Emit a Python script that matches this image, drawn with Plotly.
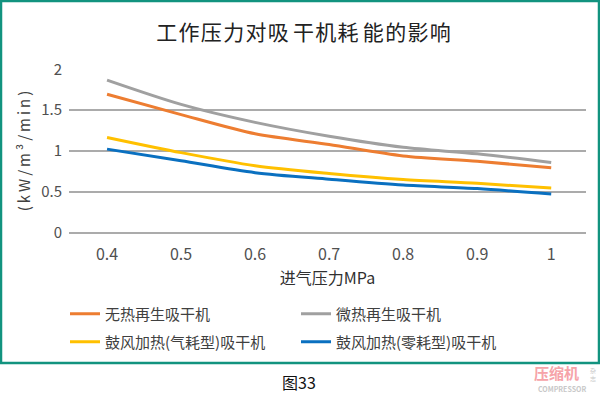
import plotly.graph_objects as go

# ---- data ----
pressure = [0.4, 0.5, 0.6, 0.7, 0.8, 0.9, 1.0]
x_tick_labels = ["0.4", "0.5", "0.6", "0.7", "0.8", "0.9", "1"]
y_ticks = [0, 0.5, 1, 1.5, 2]
y_tick_labels = ["0", "0.5", "1", "1.5", "2"]
series_names = ["无热再生吸干机", "微热再生吸干机", "鼓风加热(气耗型)吸干机", "鼓风加热(零耗型)吸干机"]
heatless = [1.695, 1.445, 1.21, 1.08, 0.94, 0.875, 0.795]
micro_heat = [1.867, 1.57, 1.35, 1.18, 1.045, 0.965, 0.86]
blower_air = [1.166, 0.98, 0.82, 0.725, 0.65, 0.605, 0.546]
blower_zero = [1.023, 0.88, 0.735, 0.655, 0.583, 0.54, 0.473]

colors = ["#ED7D31", "#A0A0A0", "#FFC000", "#0A70C0"]
FONT = "Noto Sans CJK SC"

W, H = 600, 395
L, R, T, B = 69, 586, 69, 233  # plot area in px


def px(xp):
    return (xp - L) / (R - L)


def py(yp):
    return (B - yp) / (B - T)


HAIR = "\u200a"
THIN = "\u2009"
title_text = HAIR.join("工作压力对吸") + THIN + HAIR.join("干机耗") + THIN + HAIR.join("能的影响")
ytitle_text = THIN.join(["(", "k", "W", "/", "m", "³", "/", "m", "i", "n", ")"])

fig = go.Figure()
data = [heatless, micro_heat, blower_air, blower_zero]
legends = ["legend", "legend", "legend2", "legend2"]
for name, vals, c, lg in zip(series_names, data, colors, legends):
    fig.add_trace(go.Scatter(
        x=pressure, y=vals, name=name, mode="lines",
        line=dict(color=c, width=3, shape="spline", smoothing=0.8),
        legend=lg,
    ))

legend_common = dict(
    orientation="h", xanchor="left", yanchor="middle",
    entrywidth=186, entrywidthmode="pixels",
    font=dict(family=FONT, size=15, color="#404040"),
    bgcolor="rgba(0,0,0,0)", borderwidth=0,
    itemwidth=30,
)

fig.update_layout(
    width=W, height=H,
    margin=dict(l=L, r=W - R, t=T, b=H - B, autoexpand=False),
    paper_bgcolor="white", plot_bgcolor="white",
    font=dict(family=FONT, color="#404040"),
    title=dict(
        text=title_text,
        x=303.5 / W, xanchor="center", xref="container",
        y=1 - 33 / H, yanchor="middle", yref="container",
        font=dict(family=FONT, size=21, color="#222222"),
    ),
    xaxis=dict(
        range=[0.3486, 1.047],
        tickmode="array", tickvals=pressure, ticktext=x_tick_labels,
        showgrid=False, zeroline=False, showline=False, ticks="",
        tickfont=dict(family=FONT, size=16, color="#505050"),
        ticklabelstandoff=10,
        title=dict(text="进气压力MPa", font=dict(family=FONT, size=16, color="#303030"), standoff=8),
    ),
    yaxis=dict(
        range=[-0.003, 2.003],
        tickmode="array", tickvals=y_ticks, ticktext=y_tick_labels,
        showgrid=True, gridcolor="#ABABAB", gridwidth=1.6,
        zeroline=True, zerolinecolor="#ABABAB", zerolinewidth=1.6,
        showline=False, ticks="",
        tickfont=dict(family=FONT, size=15, color="#505050"),
        ticklabelstandoff=6,
        title=dict(text=ytitle_text, font=dict(family=FONT, size=15, color="#404040"), standoff=6),
    ),
    legend=dict(legend_common, x=px(65), y=py(314)),
    legend2=dict(legend_common, x=px(65), y=py(342)),
    showlegend=True,
)

# teal frame around chart
fig.add_shape(type="rect", xref="paper", yref="paper",
              x0=px(1), x1=px(599), y0=py(363), y1=py(1),
              line=dict(color="#12937F", width=2.5), fillcolor="rgba(0,0,0,0)", layer="below")

# caption and watermark
fig.add_annotation(text="图33", xref="paper", yref="paper", x=px(299), y=py(382),
                   xanchor="center", yanchor="middle",
                   showarrow=False, font=dict(family=FONT, size=16, color="#111111"))
fig.add_annotation(text="<b>压缩机</b>", xref="paper", yref="paper", x=px(556), y=py(372),
                   xanchor="center", yanchor="middle",
                   showarrow=False, font=dict(family=FONT, size=15, color="#F6A3A8"))
fig.add_annotation(text="<b>COMPRESSOR</b>", xref="paper", yref="paper", x=px(562), y=py(389),
                   xanchor="center", yanchor="middle",
                   showarrow=False, font=dict(family=FONT, size=7, color="#C8C8C8"))
fig.add_annotation(text="杂<br>志", xref="paper", yref="paper", x=px(593), y=py(374),
                   xanchor="center", yanchor="middle",
                   showarrow=False, font=dict(family=FONT, size=6, color="#C8C8C8"))

fig.write_html("out.html", config={"displayModeBar": False},
               post_script="document.body.style.margin='0';document.body.style.padding='0';")
